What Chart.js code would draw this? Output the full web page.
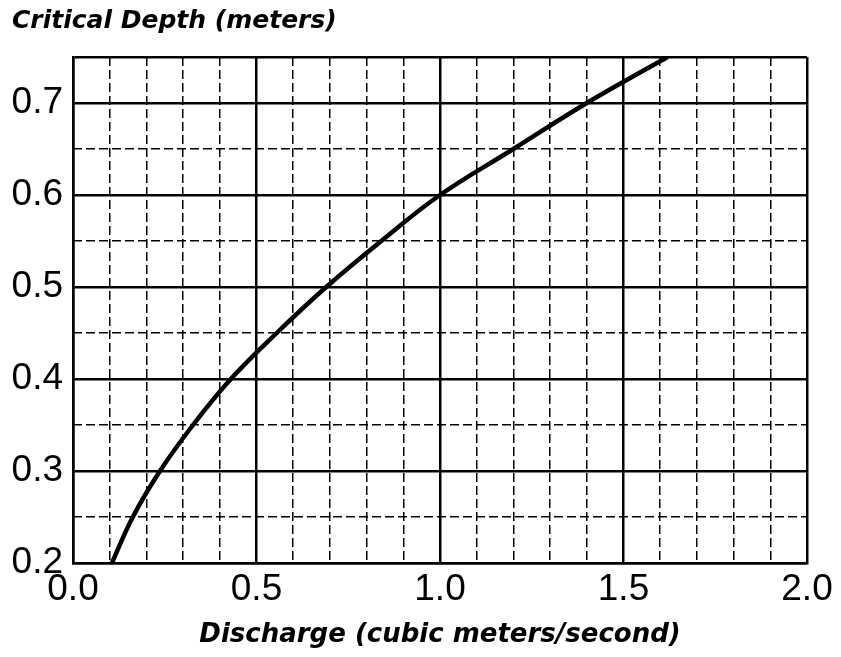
<!DOCTYPE html>
<html>
<head>
<meta charset="utf-8">
<script src="https://cdn.jsdelivr.net/npm/chart.js@4.4.1/dist/chart.umd.min.js"></script>
<style>
  html, body { margin: 0; padding: 0; background: #fff; }
  #wrap { width: 841px; height: 657px; }
</style>
</head>
<body>
<div id="wrap"><canvas id="chart"></canvas></div>
<script>
// Datos
const discharge = [0.106, 0.163, 0.237, 0.327, 0.43, 0.555, 0.69, 0.84, 1.0, 1.2, 1.40, 1.62];
const depth     = [0.20, 0.25, 0.30, 0.35, 0.40, 0.45, 0.50, 0.55, 0.60, 0.65, 0.70, 0.75];

// Ticks de los ejes
const xMajorTicks = [0, 0.5, 1.0, 1.5, 2.0];
const xMinorTicks = [0.1, 0.2, 0.3, 0.4, 0.6, 0.7, 0.8, 0.9, 1.1, 1.2, 1.3, 1.4, 1.6, 1.7, 1.8, 1.9];
const yMajorTicks = [0.2, 0.3, 0.4, 0.5, 0.6, 0.7, 0.75];
const yMinorTicks = [0.25, 0.35, 0.45, 0.55, 0.65];

const FONT = "'Liberation Sans', Arial, Helvetica, sans-serif";
const FONT_BOLD = "'DejaVu Sans', 'Liberation Sans', sans-serif";
const INK = '#000';

const setTicks = arr => scale => { scale.ticks = arr.map(v => ({ value: v })); };

new Chart(document.getElementById('chart'), {
  type: 'line',
  data: {
    datasets: [{
      data: discharge.map((q, i) => ({ x: q, y: depth[i] })),
      borderColor: INK,
      borderWidth: 4.5,
      pointRadius: 0,
      tension: 0.4,
      fill: false,
    }],
  },
  options: {
    responsive: true,
    maintainAspectRatio: false,
    animation: false,
    layout: { padding: { left: 12, right: 34, top: 0, bottom: 4 } },
    plugins: {
      legend: { display: false },
      tooltip: { enabled: false },
      title: {
        display: true,
        text: 'Critical Depth (meters)',
        align: 'start',
        color: INK,
        font: { family: FONT_BOLD, size: 25, weight: 'bold', style: 'italic' },
        padding: { top: 6, bottom: 21 },
      },
    },
    scales: {
      x: {
        type: 'linear',
        min: 0, max: 2,
        afterBuildTicks: setTicks(xMajorTicks),
        afterFit: s => { s.height = 90; },
        grid: { color: INK, lineWidth: 2.5, drawTicks: false },
        border: { display: true, color: INK, width: 2.5 },
        ticks: {
          color: INK, padding: 5,
          font: { family: FONT, size: 37 },
          maxRotation: 0, autoSkip: false,
          callback: v => v.toFixed(1),
        },
        title: {
          display: true,
          text: 'Discharge (cubic meters/second)',
          color: INK,
          padding: { top: 0, bottom: 2 },
          font: { family: FONT_BOLD, size: 26, weight: 'bold', style: 'italic' },
        },
      },
      x2: {
        type: 'linear',
        position: 'bottom',
        min: 0, max: 2,
        afterBuildTicks: setTicks(xMinorTicks),
        afterFit: s => { s.height = 0; },
        grid: { color: INK, lineWidth: 1.5, drawTicks: false },
        border: { display: false, dash: [9, 4] },
        ticks: { display: false },
      },
      y: {
        type: 'linear',
        min: 0.2, max: 0.75,
        afterBuildTicks: setTicks(yMajorTicks),
        afterFit: s => { s.width = 61; },
        grid: { color: INK, lineWidth: 2.5, drawTicks: false },
        border: { display: true, color: INK, width: 2.5 },
        ticks: {
          color: INK, padding: 10,
          font: { family: FONT, size: 37 },
          autoSkip: false,
          callback: v => (v === 0.75 ? '' : v.toFixed(1)),
        },
      },
      y2: {
        type: 'linear',
        position: 'left',
        min: 0.2, max: 0.75,
        afterBuildTicks: setTicks(yMinorTicks),
        afterFit: s => { s.width = 0; },
        grid: { color: INK, lineWidth: 1.5, drawTicks: false },
        border: { display: false, dash: [9, 4] },
        ticks: { display: false },
      },
    },
  },
});
</script>
</body>
</html>
